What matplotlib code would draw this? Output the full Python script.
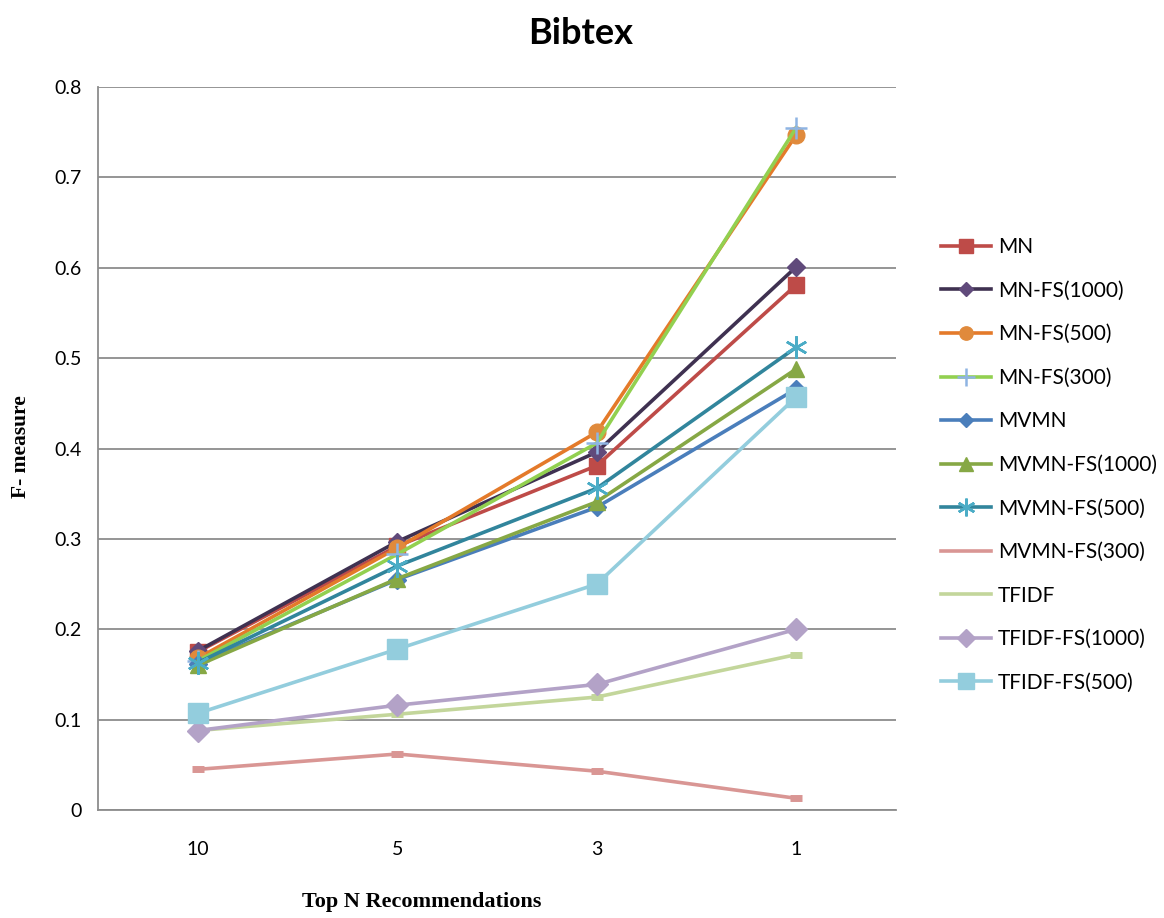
import matplotlib
matplotlib.use("Agg")
import matplotlib.pyplot as plt

# categories on the x axis (top N recommendations)
top_n = ["10", "5", "3", "1"]

mn = [0.175, 0.292, 0.381, 0.581]
mn_fs1000 = [0.176, 0.297, 0.396, 0.601]
mn_fs500 = [0.168, 0.290, 0.418, 0.747]
mn_fs300 = [0.165, 0.283, 0.406, 0.755]
mvmn = [0.162, 0.255, 0.335, 0.466]
mvmn_fs1000 = [0.160, 0.256, 0.341, 0.488]
mvmn_fs500 = [0.163, 0.270, 0.356, 0.512]
mvmn_fs300 = [0.045, 0.062, 0.043, 0.013]
tfidf = [0.088, 0.106, 0.125, 0.172]
tfidf_fs1000 = [0.088, 0.116, 0.139, 0.200]
tfidf_fs500 = [0.107, 0.178, 0.250, 0.457]

labels = ["MN", "MN-FS(1000)", "MN-FS(500)", "MN-FS(300)", "MVMN",
          "MVMN-FS(1000)", "MVMN-FS(500)", "MVMN-FS(300)", "TFIDF",
          "TFIDF-FS(1000)", "TFIDF-FS(500)"]
series = [mn, mn_fs1000, mn_fs500, mn_fs300, mvmn, mvmn_fs1000,
          mvmn_fs500, mvmn_fs300, tfidf, tfidf_fs1000, tfidf_fs500]

# line colour, marker, marker size, marker colour
styles = [
    ("#BE4B48", "s", 12, "#BE4B48"),
    ("#3F3151", "D", 9, "#604A7B"),
    ("#E47A2A", "o", 12, "#E08A3C"),
    ("#92D050", "+", 16, "#8EB4E3"),
    ("#4A7EBB", "D", 9, "#4A7EBB"),
    ("#86A845", "^", 12, "#86A845"),
    ("#31859C", (6, 2, 0), 16, "#4BACC6"),
    ("#D99694", "_", 9, "#D99694"),
    ("#C3D69B", "_", 9, "#C3D69B"),
    ("#B3A2C7", "D", 11, "#B3A2C7"),
    ("#93CDDD", "s", 14, "#93CDDD"),
]

fig = plt.figure(figsize=(11.64, 9.18), dpi=100)
ax = fig.add_axes([0.0842, 0.1176, 0.6855, 0.7876])

x = list(range(len(top_n)))
for vals, lab, (lc, mk, ms, mc) in zip(series, labels, styles):
    kw = dict(marker=mk, markersize=ms, markerfacecolor=mc, markeredgecolor=mc)
    if mk in ("+", (6, 2, 0)):
        kw["markeredgewidth"] = 1.8
    if mk == "_":
        kw["markeredgewidth"] = 5
    ax.plot(x, vals, color=lc, linewidth=2.6, label=lab, **kw)

ax.set_xlim(-0.5, 3.5)
ax.set_ylim(0, 0.8)
ax.set_xticks(x)
ax.set_xticklabels(top_n)
ax.set_yticks([i / 10 for i in range(9)])
ax.set_yticklabels(["0"] + ["%.1f" % (i / 10) for i in range(1, 9)])
ax.tick_params(length=0, labelsize=14, pad=12)
ax.tick_params(axis="x", pad=22)
for t in ax.get_xticklabels() + ax.get_yticklabels():
    t.set_family("Lato")
ax.grid(axis="y", color="#8c8c8c", linewidth=1.3)
ax.set_axisbelow(True)
for s in ("top", "right"):
    ax.spines[s].set_visible(False)
for s in ("left", "bottom"):
    ax.spines[s].set_color("#8c8c8c")
    ax.spines[s].set_linewidth(1.3)

fig.text(0.499, 0.963, "Bibtex", ha="center", va="center",
         fontsize=26, fontweight="bold", family="Lato")
fig.text(0.362, 0.017, "Top N Recommendations", ha="center", va="center",
         fontsize=16, fontweight="bold", family="Liberation Serif")
fig.text(0.018, 0.513, "F- measure", ha="center", va="center", rotation=90,
         fontsize=15.5, fontweight="bold", family="Liberation Serif")

leg = fig.legend(loc="upper left", bbox_to_anchor=(0.792, 0.762), frameon=False,
                 prop={"family": "Lato", "size": 15}, labelspacing=1.13,
                 handlelength=2.4, handletextpad=0.35, markerscale=0.8)
# the two plain series show only a line in the key
for h in leg.get_lines():
    if h.get_marker() == "_":
        h.set_marker("None")

fig.savefig("out.png", dpi=100)
